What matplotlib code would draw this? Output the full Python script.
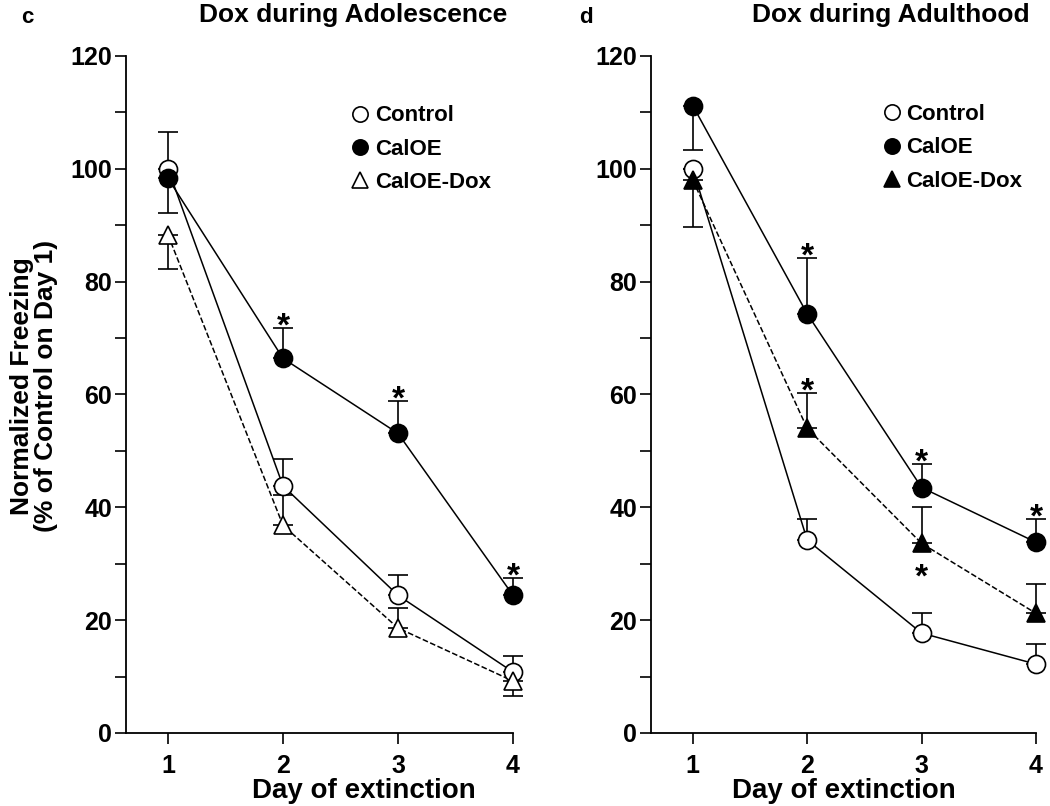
import numpy as np
import matplotlib
matplotlib.use("Agg")
from matplotlib import pyplot as plt
from matplotlib.ticker import MultipleLocator

plt.rcParams['font.family'] = ['Liberation Sans', 'DejaVu Sans']
plt.rcParams['font.weight'] = 'bold'

days = [1, 2, 3, 4]

# panel c - Dox during adolescence
c_ctrl = [100, 43.8, 24.4, 10.8]
c_ctrl_lo = [0, 0, 0, 0]
c_ctrl_hi = [6.6, 4.7, 3.6, 2.8]
c_cal = [98.3, 66.4, 53.1, 24.4]
c_cal_lo = [6.1, 0, 0, 0]
c_cal_hi = [0, 5.3, 5.7, 3.0]
c_dox = [88.3, 36.8, 18.6, 9.2]
c_dox_lo = [6.0, 0, 0, 2.7]
c_dox_hi = [0, 5.4, 3.5, 0]
c_star_cal = [0, 1, 1, 1]

# panel d - Dox during adulthood
d_ctrl = [100, 34.2, 17.7, 12.2]
d_ctrl_lo = [0, 0, 0, 0]
d_ctrl_hi = [0, 3.8, 3.5, 3.6]
d_cal = [111.2, 74.3, 43.5, 33.8]
d_cal_lo = [7.8, 0, 0, 0]
d_cal_hi = [0, 9.8, 4.1, 4.1]
d_dox = [98.0, 54.0, 33.6, 21.2]
d_dox_lo = [8.4, 0, 0, 0]
d_dox_hi = [0, 6.2, 6.4, 5.2]
d_star_cal = [0, 1, 1, 1]
d_star_dox = [0, 1, 0, 0]      # star above
d_star_dox_below = [0, 0, 1, 0]


def series(ax, y, lo, hi, marker, fc, ls, label):
	ax.errorbar(days, y, yerr=[lo, hi], fmt='none', ecolor='black',
		elinewidth=1.2, capsize=7, capthick=1.2, zorder=2, clip_on=False)
	ax.plot(days, y, color='black', lw=1.1, ls=ls, zorder=3, clip_on=False)
	ax.plot(days, y, ls='none', marker=marker, ms=13 if marker == 'o' else 12.5,
		mfc=fc, mec='black', mew=1.2, zorder=4, label=label, clip_on=False)


def stars(ax, y, hi, flags):
	for d, v, h, f in zip(days, y, hi, flags):
		if f:
			ax.text(d, v + h - 1.3, '*', ha='center', va='baseline',
				fontsize=24, fontweight='bold')


def style(ax):
	ax.set_xlim(0.635, 4.0)
	ax.set_ylim(0, 120)
	ax.spines['top'].set_visible(False)
	ax.spines['right'].set_visible(False)
	ax.spines['left'].set_linewidth(1.3)
	ax.spines['bottom'].set_linewidth(1.3)
	ax.set_xticks(days)
	ax.yaxis.set_major_locator(MultipleLocator(20))
	ax.yaxis.set_minor_locator(MultipleLocator(10))
	ax.tick_params(which='both', direction='out', length=8, width=1.2,
		labelsize=18)
	ax.tick_params(axis='x', pad=7)
	ax.tick_params(axis='y', pad=2)
	ax.set_xlabel('Day of extinction', fontsize=20, fontweight='bold')
	ax.patch.set_alpha(0)


fig = plt.figure(figsize=(10.5, 8.06), dpi=100)
axc = fig.add_axes([0.12, 0.0906, 0.3686, 0.84])
axd = fig.add_axes([0.62, 0.0906, 0.3667, 0.84])

series(axc, c_ctrl, c_ctrl_lo, c_ctrl_hi, 'o', 'white', '-', 'Control')
series(axc, c_cal, c_cal_lo, c_cal_hi, 'o', 'black', '-', 'CalOE')
series(axc, c_dox, c_dox_lo, c_dox_hi, '^', 'white', '--', 'CalOE-Dox')
stars(axc, c_cal, c_cal_hi, c_star_cal)

series(axd, d_ctrl, d_ctrl_lo, d_ctrl_hi, 'o', 'white', '-', 'Control')
series(axd, d_cal, d_cal_lo, d_cal_hi, 'o', 'black', '-', 'CalOE')
series(axd, d_dox, d_dox_lo, d_dox_hi, '^', 'black', '--', 'CalOE-Dox')
stars(axd, d_cal, d_cal_hi, d_star_cal)
stars(axd, d_dox, d_dox_hi, d_star_dox)
for d, v, f in zip(days, d_dox, d_star_dox_below):
	if f:
		axd.text(d, v - 7.6, '*', ha='center', va='baseline', fontsize=24,
			fontweight='bold')

for ax in (axc, axd):
	style(ax)

axc.xaxis.set_label_coords(0.615, -0.066)
axd.xaxis.set_label_coords(0.5, -0.066)

axc.set_ylabel('Normalized Freezing\n(% of Control on Day 1)', fontsize=19,
	fontweight='bold', linespacing=1.0)
axc.yaxis.set_label_coords(-0.176, 0.513)

leg_kw = dict(frameon=False, handlelength=0.6, handletextpad=0.35,
	labelspacing=0.55, borderaxespad=0, markerscale=1.0,
	prop={'size': 16, 'weight': 'bold'})
legc = axc.legend(loc='upper left', bbox_to_anchor=(0.565, 0.94), **leg_kw)
legd = axd.legend(loc='upper left', bbox_to_anchor=(0.585, 0.942), **leg_kw)
for leg in (legc, legd):
	for h in leg.legend_handles:
		h.set_markersize(11)

fig.text(0.02, 0.978, 'c', fontsize=16, fontweight='bold', va='center')
fig.text(0.336, 0.981, 'Dox during Adolescence', fontsize=19,
	fontweight='bold', ha='center', va='center')
fig.text(0.552, 0.978, 'd', fontsize=16, fontweight='bold', va='center')
fig.text(0.848, 0.981, 'Dox during Adulthood', fontsize=19,
	fontweight='bold', ha='center', va='center')

fig.savefig('out.png', dpi=100)
